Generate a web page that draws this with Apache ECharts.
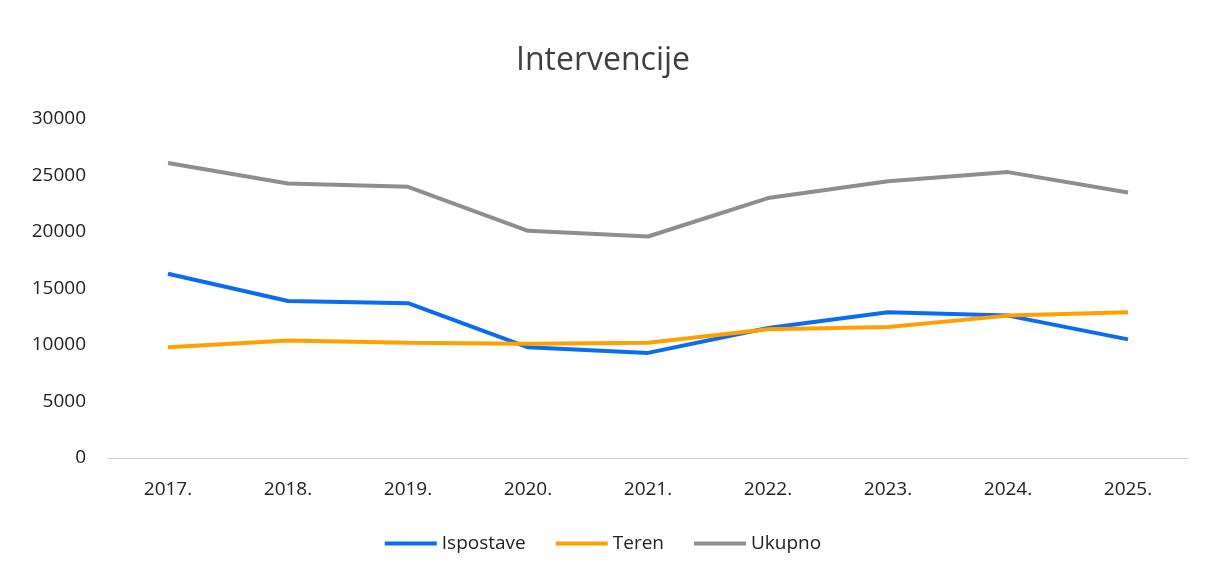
<!DOCTYPE html>
<html>
<head>
<meta charset="utf-8">
<script src="https://cdn.jsdelivr.net/npm/echarts@6/dist/echarts.min.js"></script>
<style>
  html, body { margin: 0; padding: 0; background: #fff; }
  #main { width: 1206px; height: 574px; }
</style>
</head>
<body>
<div id="main"></div>
<script>
var years = ['2017.', '2018.', '2019.', '2020.', '2021.', '2022.', '2023.', '2024.', '2025.'];
var ispostave = [16300, 13900, 13700, 9800, 9300, 11500, 12900, 12600, 10500];
var teren = [9800, 10400, 10200, 10100, 10200, 11400, 11600, 12600, 12900];
var ukupno = [26100, 24300, 24000, 20100, 19600, 23000, 24500, 25300, 23500];

var myChart = echarts.init(document.getElementById('main'), null, { renderer: 'canvas' });
var font = '"Open Sans", "Liberation Sans", sans-serif';

function line(name, data, color) {
  return {
    name: name,
    type: 'line',
    data: data,
    symbol: 'none',
    lineStyle: { width: 4, color: color },
    itemStyle: { color: color }
  };
}

var option = {
  backgroundColor: '#fff',
  title: {
    text: 'Intervencije',
    left: 'center',
    top: 40,
    textStyle: { fontFamily: font, fontSize: 32, fontWeight: 'normal', color: '#404040' }
  },
  legend: {
    bottom: 16,
    left: 'center',
    itemWidth: 52,
    itemHeight: 4,
    itemGap: 30,
    icon: 'rect',
    textStyle: { fontFamily: font, fontSize: 19, color: '#222' },
    data: ['Ispostave', 'Teren', 'Ukupno']
  },
  grid: { left: 108, right: 18, top: 119, bottom: 116 },
  xAxis: {
    type: 'category',
    data: years,
    boundaryGap: true,
    axisLine: { show: true, lineStyle: { color: '#d0d0d0', width: 1 } },
    axisTick: { show: false },
    axisLabel: { fontFamily: font, fontSize: 19, color: '#222', margin: 22 }
  },
  yAxis: {
    type: 'value',
    min: 0,
    max: 30000,
    interval: 5000,
    axisLine: { show: false },
    axisTick: { show: false },
    splitLine: { show: false },
    axisLabel: {
      fontFamily: font, fontSize: 19, color: '#222', margin: 22,
      formatter: function (v) { return String(v); }
    }
  },
  series: [
    line('Ispostave', ispostave, '#0a6cf0'),
    line('Teren', teren, '#ffa000'),
    line('Ukupno', ukupno, '#8e8e8e')
  ]
};

myChart.setOption(option);
window.addEventListener('resize', myChart.resize);
</script>
</body>
</html>
